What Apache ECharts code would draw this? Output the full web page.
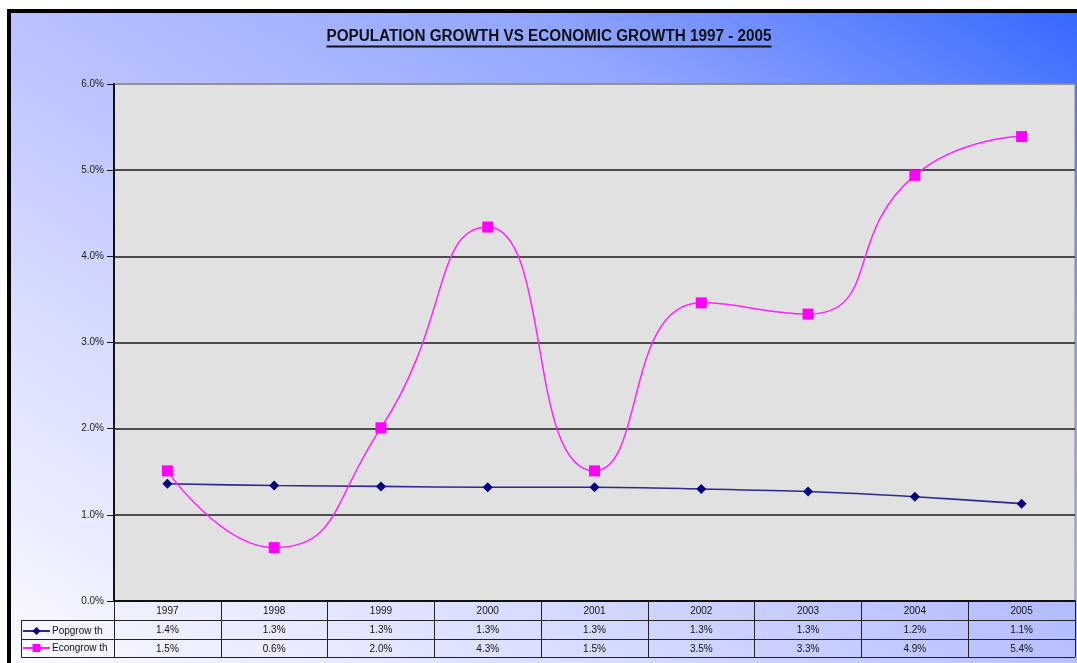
<!DOCTYPE html>
<html>
<head>
<meta charset="utf-8">
<title>Population growth vs economic growth 1997 - 2005</title>
<script src="https://cdn.jsdelivr.net/npm/echarts@6/dist/echarts.min.js"></script>
<style>
  html, body { margin: 0; padding: 0; background: #ffffff; }
  #chart { width: 1077px; height: 663px; }
</style>
</head>
<body>
<div id="chart"></div>
<script>
// Years on the category axis
const years = ['1997', '1998', '1999', '2000', '2001', '2002', '2003', '2004', '2005'];
// Annual population growth, percent
const popGrowth = [1.36, 1.34, 1.33, 1.32, 1.32, 1.30, 1.27, 1.21, 1.13];
// Annual economic growth, percent
const econGrowth = [1.51, 0.62, 2.01, 4.34, 1.51, 3.46, 3.33, 4.94, 5.39];
// Value axis ticks
const yTicks = [0, 1, 2, 3, 4, 5, 6];

const titleText = 'POPULATION GROWTH VS ECONOMIC GROWTH 1997 - 2005';
const popName = 'Popgrow th';
const econName = 'Econgrow th';

const chart = echarts.init(document.getElementById('chart'), null, { renderer: 'canvas' });

// Condensed bold title: measure the text and squeeze it horizontally
const titleFont = 'bold 16px "Liberation Sans", Arial, sans-serif';
const measureCtx = document.createElement('canvas').getContext('2d');
measureCtx.font = titleFont;
const titleWidth = measureCtx.measureText(titleText).width;
const titleTargetWidth = 445;
const titleScale = titleTargetWidth / titleWidth;
const titleCx = 549;

// Diagonal backdrop, dark blue in the top-right corner fading to white at bottom-left
const backdrop = {
  type: 'linear',
  global: true,
  x: 1077, y: 0, x2: 485, y2: 962,
  colorStops: [
    { offset: 0, color: '#3366ff' },
    { offset: 0.27, color: '#93a6ff' },
    { offset: 0.5, color: '#b8c0ff' },
    { offset: 0.75, color: '#dce0ff' },
    { offset: 1, color: '#fbfbff' }
  ]
};

const tableLine = { stroke: '#222222', lineWidth: 1 };

chart.setOption({
  animation: false,
  textStyle: { fontFamily: '"Liberation Sans", Arial, sans-serif' },
  graphic: [
    {
      type: 'rect', z: -10, silent: true,
      shape: { x: 9, y: 11, width: 1200, height: 800 },
      style: { fill: backdrop, stroke: '#000000', lineWidth: 4 }
    },
    {
      type: 'text', z: 10,
      x: titleCx, y: 37,
      scaleX: titleScale, scaleY: 1,
      originX: 0, originY: 0,
      style: {
        text: titleText, font: titleFont, fill: '#111111',
        align: 'center', verticalAlign: 'middle'
      }
    },
    {
      type: 'rect', z: 10,
      shape: { x: titleCx - titleTargetWidth / 2, y: 45.5, width: titleTargetWidth, height: 2 },
      style: { fill: '#111111' }
    },
    // data table rules
    { type: 'line', z: 5, shape: { x1: 21.5, y1: 620.5, x2: 1075.5, y2: 620.5 }, style: tableLine },
    { type: 'line', z: 5, shape: { x1: 21.5, y1: 639.5, x2: 1075.5, y2: 639.5 }, style: tableLine },
    { type: 'line', z: 5, shape: { x1: 21.5, y1: 657.5, x2: 1075.5, y2: 657.5 }, style: tableLine },
    { type: 'line', z: 5, shape: { x1: 21.5, y1: 620.5, x2: 21.5, y2: 657.5 }, style: tableLine }
  ],
  legend: {
    orient: 'vertical',
    left: 22, top: 626,
    itemWidth: 27, itemHeight: 10,
    itemGap: 7,
    padding: 0,
    textStyle: { fontSize: 10, color: '#111111', padding: [0, 0, 0, -3] },
    data: [popName, econName]
  },
  grid: {
    left: 114, right: 2, top: 84, bottom: 62,
    show: true,
    backgroundColor: '#e1e1e1',
    borderColor: '#8a8a8a', borderWidth: 1,
    containLabel: false
  },
  xAxis: {
    type: 'category',
    data: years,
    boundaryGap: true,
    axisLine: { lineStyle: { color: '#111111', width: 2 } },
    axisTick: { show: true, interval: 0, length: 56, lineStyle: { color: '#222222', width: 1 } },
    axisLabel: {
      interval: 0,
      margin: 1,
      fontSize: 10,
      lineHeight: 18.7,
      color: '#111111',
      formatter: function (value, index) {
        return value + '\n' + popGrowth[index].toFixed(1) + '%\n' + econGrowth[index].toFixed(1) + '%';
      }
    },
    splitLine: { show: false }
  },
  yAxis: {
    type: 'value',
    min: yTicks[0], max: yTicks[yTicks.length - 1], interval: 1,
    axisLine: { show: true, lineStyle: { color: '#111111', width: 2 } },
    axisTick: { show: true, length: 7, lineStyle: { color: '#111111', width: 1 } },
    axisLabel: {
      margin: 10, fontSize: 10, color: '#222222',
      formatter: function (v) { return v.toFixed(1) + '%'; }
    },
    splitLine: {
      show: true,
      lineStyle: {
        color: ['#111111', '#1a1a1a', '#1a1a1a', '#1a1a1a', '#1a1a1a', '#1a1a1a', '#8a8a8a'],
        width: 1.5
      }
    }
  },
  series: [
    {
      name: popName,
      type: 'line',
      data: popGrowth,
      smooth: 0.3,
      symbol: 'diamond',
      symbolSize: 10,
      itemStyle: { color: '#000080' },
      lineStyle: { color: '#2b2b8c', width: 1.6 },
      z: 3
    },
    {
      name: econName,
      type: 'line',
      data: econGrowth,
      smooth: 0.55,
      symbol: 'rect',
      symbolSize: 11,
      itemStyle: { color: '#ff00ff' },
      lineStyle: { color: '#ff22ff', width: 1.5 },
      z: 4
    }
  ]
});
</script>
</body>
</html>
